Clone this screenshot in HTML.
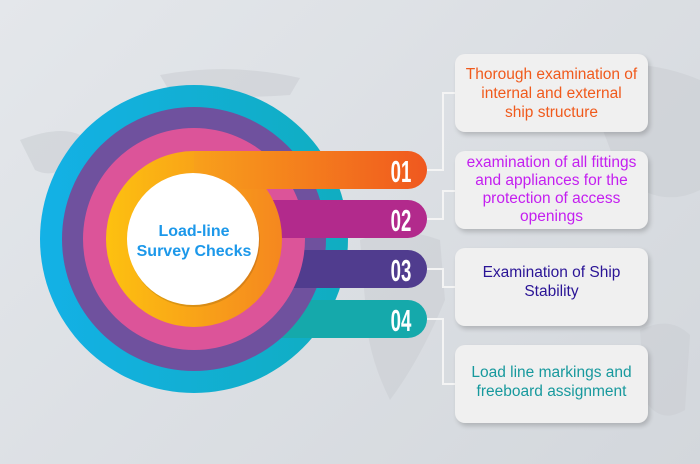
<!DOCTYPE html>
<html><head><style>
html,body{margin:0;padding:0;}
body{width:700px;height:464px;overflow:hidden;background:linear-gradient(135deg,#e4e7eb,#d3d7dc);font-family:"Liberation Sans",sans-serif;position:relative;}
.box{position:absolute;left:455px;width:193px;height:78px;background:#f0f0f0;border-radius:10px;box-shadow:2px 3px 5px rgba(0,0,0,0.18);display:flex;align-items:center;justify-content:center;text-align:center;font-size:15.5px;line-height:19px;box-sizing:border-box;padding:0;white-space:nowrap;}
</style></head><body>
<svg width="700" height="464" style="position:absolute;left:0;top:0">
<defs>
<linearGradient id="og" x1="0" x2="1"><stop offset="0" stop-color="#fdc110"/><stop offset="1" stop-color="#f5871f"/></linearGradient>
<linearGradient id="ob" x1="0" x2="1"><stop offset="0" stop-color="#f8a01b"/><stop offset="1" stop-color="#f0581f"/></linearGradient>
<linearGradient id="cg" x1="0" x2="1"><stop offset="0" stop-color="#13b1e6"/><stop offset="1" stop-color="#10adc0"/></linearGradient>
</defs>
<g fill="#cbcfd4" opacity="0.6">
<path d="M20 140 Q60 125 80 135 L75 160 Q55 180 35 170 Z"/>
<path d="M160 75 Q230 62 300 78 L290 95 Q220 100 170 92 Z"/>
<path d="M360 240 Q400 225 440 240 L445 300 Q420 360 390 400 Q365 350 365 300 Z"/>
<path d="M580 70 Q640 55 700 80 L700 190 Q660 210 620 175 Z"/>
<path d="M640 330 Q670 315 690 335 L685 410 Q660 425 645 400 Z"/>
</g>
<circle cx="194" cy="239" r="154" fill="url(#cg)"/>
<path d="M194 300 H408 A19 19 0 0 1 408 338 H194 Z" fill="#15a9ab"/>
<circle cx="194" cy="239" r="132" fill="#6f519e"/>
<path d="M194 250 H408 A19 19 0 0 1 408 288 H194 Z" fill="#503c8e"/>
<circle cx="194" cy="239" r="111" fill="#dc5499"/>
<path d="M194 200 H408 A19 19 0 0 1 408 238 H194 Z" fill="#b22a8c"/>
<circle cx="194" cy="239" r="88" fill="url(#og)"/>
<path d="M194 151 H408 A19 19 0 0 1 408 189 H194 Z" fill="url(#ob)"/>
<circle cx="194" cy="241" r="66" fill="rgba(0,0,0,0.12)"/>
<circle cx="193" cy="239" r="66" fill="#fff"/>
<text x="194" y="236" text-anchor="middle" font-family="Liberation Sans" font-weight="bold" font-size="16" fill="#1c98ea">Load-line</text>
<text x="194" y="256" text-anchor="middle" font-family="Liberation Sans" font-weight="bold" font-size="16" fill="#1c98ea">Survey Checks</text>
<g font-family="Liberation Sans" font-weight="bold" font-size="31" fill="#fff" text-anchor="middle">
<text x="401" y="182" transform="translate(401 0) scale(0.6 1) translate(-401 0)">01</text>
<text x="401" y="231" transform="translate(401 0) scale(0.6 1) translate(-401 0)">02</text>
<text x="401" y="281" transform="translate(401 0) scale(0.6 1) translate(-401 0)">03</text>
<text x="401" y="331" transform="translate(401 0) scale(0.6 1) translate(-401 0)">04</text>
</g>
<g stroke="#f4f4f4" stroke-width="2" fill="none">
<path d="M427 170 H443 V93 H455"/>
<path d="M427 219 H443 V191 H455"/>
<path d="M427 269 H443 V287 H455"/>
<path d="M427 319 H443 V384 H455"/>
</g>
</svg>
<div class="box" style="top:54px;color:#f05a1c">Thorough examination of<br>internal and external<br>ship structure</div>
<div class="box" style="top:151px;color:#c41ff0;line-height:18px">examination of all fittings<br>and appliances for the<br>protection of access<br>openings</div>
<div class="box" style="top:248px;color:#2a1496;padding-bottom:10px">Examination of Ship<br>Stability</div>
<div class="box" style="top:345px;color:#17999d;padding-bottom:4px">Load line markings and<br>freeboard assignment</div>
</body></html>
